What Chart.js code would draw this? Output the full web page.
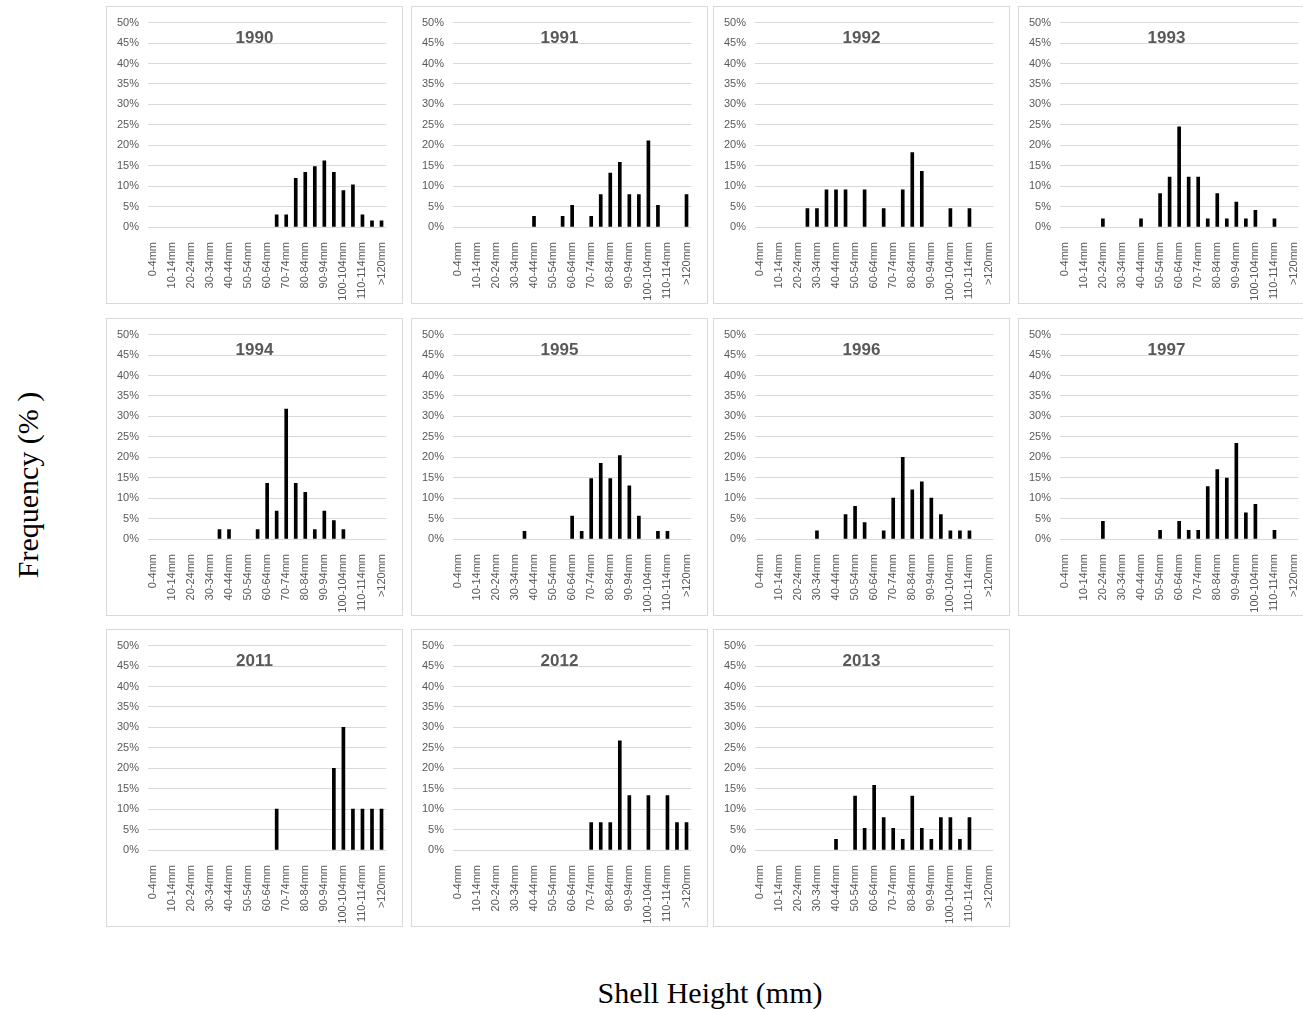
<!DOCTYPE html>
<html>
<head>
<meta charset="utf-8">
<script src="https://cdn.jsdelivr.net/npm/chart.js@4"></script>
<style>
  html, body { margin: 0; padding: 0; background: #fff; overflow: hidden; }
  body { width: 1303px; height: 1009px; position: relative; }
  .panel { position: absolute; width: 297px; height: 298px; border: 1px solid #d9d9d9; box-sizing: border-box; }
  .panel canvas { position: absolute; left: 0; top: 0; }
  .axis-title { position: absolute; font-family: "Liberation Serif", "Times New Roman", serif; font-size: 30px; color: #000; white-space: nowrap; }
</style>
</head>
<body>
<div class="axis-title" style="left:28px; top:485px; transform: translate(-50%, -50%) rotate(-90deg);">Frequency (% )</div>
<div class="axis-title" style="left:710px; top:993px; transform: translate(-50%, -50%);">Shell Height (mm)</div>

<script>
// size classes, 5 mm each
const categories = [
  "0-4mm", "5-9mm", "10-14mm", "15-19mm", "20-24mm", "25-29mm", "30-34mm",
  "35-39mm", "40-44mm", "45-49mm", "50-54mm", "55-59mm", "60-64mm",
  "65-69mm", "70-74mm", "75-79mm", "80-84mm", "85-89mm", "90-94mm",
  "95-99mm", "100-104mm", "105-109mm", "110-114mm", "115-119mm", ">120mm"
];

const years = ["1990", "1991", "1992", "1993", "1994", "1995", "1996", "1997", "2011", "2012", "2013"];

// frequency (%) per size class
const y1990 = [0,0,0,0,0,0,0,0,0,0,0,0,0,3.0,3.0,11.9,13.4,14.8,16.2,13.4,8.9,10.3,3.0,1.5,1.5];
const y1991 = [0,0,0,0,0,0,0,0,2.6,0,0,2.6,5.3,0,2.6,7.9,13.2,15.8,7.9,7.9,21.1,5.3,0,0,7.9];
const y1992 = [0,0,0,0,0,4.5,4.5,9.1,9.1,9.1,0,9.1,0,4.5,0,9.1,18.2,13.6,0,0,4.5,0,4.5,0,0];
const y1993 = [0,0,0,0,2.0,0,0,0,2.0,0,8.2,12.2,24.5,12.2,12.2,2.0,8.2,2.0,6.1,2.0,4.1,0,2.0,0,0];
const y1994 = [0,0,0,0,0,0,0,2.3,2.3,0,0,2.3,13.6,6.8,31.8,13.6,11.4,2.3,6.8,4.5,2.3,0,0,0,0];
const y1995 = [0,0,0,0,0,0,0,1.9,0,0,0,0,5.6,1.9,14.8,18.5,14.8,20.4,13.0,5.6,0,1.9,1.9,0,0];
const y1996 = [0,0,0,0,0,0,2,0,0,6,8,4,0,2,10,20,12,14,10,6,2,2,2,0,0];
const y1997 = [0,0,0,0,4.3,0,0,0,0,0,2.1,0,4.3,2.1,2.1,12.8,17.0,14.9,23.4,6.4,8.5,0,2.1,0,0];
const y2011 = [0,0,0,0,0,0,0,0,0,0,0,0,0,10,0,0,0,0,0,20,30,10,10,10,10];
const y2012 = [0,0,0,0,0,0,0,0,0,0,0,0,0,0,6.7,6.7,6.7,26.7,13.3,0,13.3,0,13.3,6.7,6.7];
const y2013 = [0,0,0,0,0,0,0,0,2.6,0,13.2,5.3,15.8,7.9,5.3,2.6,13.2,5.3,2.6,7.9,7.9,2.6,7.9,0,0];

const series = [y1990, y1991, y1992, y1993, y1994, y1995, y1996, y1997, y2011, y2012, y2013];

const panelLeft = [106, 411, 713, 1018];
const panelTop = [6, 318, 629];

const gray = "#595959";
const gridGray = "#d9d9d9";

// year label sits inside the plot area
const panelTitle = {
  id: "panelTitle",
  afterDraw(chart, args, opts) {
    const ctx = chart.ctx;
    ctx.save();
    ctx.font = 'bold 17px "Liberation Sans", Arial, sans-serif';
    ctx.fillStyle = gray;
    ctx.textAlign = "center";
    ctx.textBaseline = "middle";
    ctx.fillText(opts.text, chart.width / 2, chart.chartArea.top + 16);
    ctx.restore();
  },
};

years.forEach((yr, i) => {
  const div = document.createElement("div");
  div.className = "panel";
  div.style.left = panelLeft[i % 4] + "px";
  div.style.top = panelTop[Math.floor(i / 4)] + "px";
  const canvas = document.createElement("canvas");
  canvas.width = 295;
  canvas.height = 296;
  div.appendChild(canvas);
  document.body.appendChild(div);

  new Chart(canvas.getContext("2d"), {
    type: "bar",
    data: {
      labels: categories,
      // empty classes get no bar at all
      datasets: [{ label: yr, data: series[i].map((v) => (v === 0 ? null : v)), backgroundColor: "#000", barThickness: 3 }],
    },
    plugins: [panelTitle],
    options: {
      responsive: false,
      animation: false,
      layout: { padding: { top: 15, right: 14, left: 0, bottom: 0 } },
      plugins: {
        legend: { display: false },
        tooltip: { enabled: false },
        panelTitle: { text: yr },
      },
      scales: {
        x: {
          grid: { display: false },
          border: { display: false },
          afterFit: (scale) => { scale.height = 76; },
          ticks: {
            autoSkip: false,
            minRotation: 90,
            maxRotation: 90,
            padding: 7,
            color: gray,
            font: { family: '"Liberation Sans", Arial, sans-serif', size: 11 },
            callback: (v, idx) => (idx % 2 === 0 ? categories[idx] : ""),
          },
        },
        y: {
          min: 0,
          max: 50,
          afterFit: (scale) => { scale.width = 41; },
          grid: { color: gridGray, drawTicks: false },
          border: { display: false },
          ticks: {
            stepSize: 5,
            padding: 9,
            color: gray,
            font: { family: '"Liberation Sans", Arial, sans-serif', size: 11 },
            callback: (v) => v + "%",
          },
        },
      },
    },
  });
});
</script>
</body>
</html>
